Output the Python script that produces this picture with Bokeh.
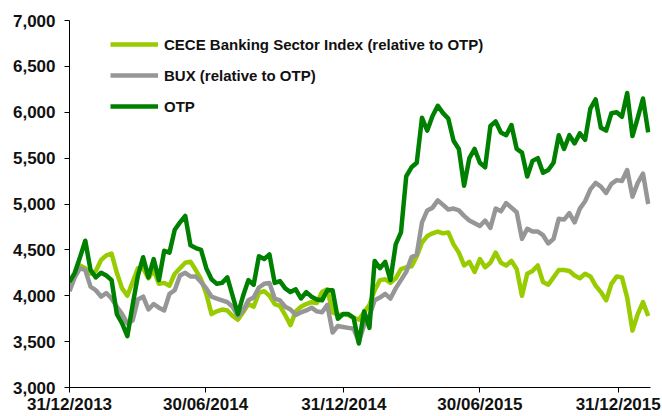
import pandas as pd
from bokeh.plotting import figure
from bokeh.models import (ColumnDataSource, Legend, LegendItem, FixedTicker,
                          NumeralTickFormatter, Range1d)
from bokeh.embed import file_html
from bokeh.resources import INLINE

# weekly observations starting 31/12/2013
start_date = "2013-12-31"
otp = [4150, 4250, 4420, 4600, 4280, 4200, 4250, 4220, 4170, 3800,
       3700, 3560, 3900, 4220, 4420, 4200, 4400, 4170, 4490, 4470,
       4720, 4800, 4870, 4550, 4520, 4500, 4300, 4180, 4130, 4140,
       4200, 4000, 3800, 4000, 4170, 4120, 4430, 4400, 4450, 4140,
       4160, 4080, 4040, 4070, 3970, 4040, 3990, 3960, 3950, 4060,
       4060, 3750, 3800, 3800, 3760, 3480, 3830, 3650, 4380, 4300,
       4370, 4170, 4560, 4690, 5300, 5400, 5450, 5940, 5800, 5960,
       6070, 5990, 5930, 5690, 5600, 5200, 5500, 5600, 5450, 5400,
       5850, 5900, 5780, 5750, 5860, 5600, 5560, 5300, 5470, 5500,
       5340, 5370, 5450, 5750, 5600, 5750, 5660, 5770, 5700, 6040,
       6140, 5830, 5800, 5990, 6000, 5950, 6210, 5740, 5940, 6150,
       5780]
bux = [4050, 4200, 4300, 4280, 4100, 4060, 3990, 4030, 3970, 3880,
       3800, 3700, 3730, 3960, 3990, 3850, 3910, 3870, 3840, 4020,
       4060, 4220, 4250, 4210, 4210, 4150, 4080, 3990, 3970, 3950,
       3930, 3880, 3780, 3840, 3950, 3980, 4090, 4130, 4140, 3970,
       3950, 3880, 3850, 3790, 3820, 3840, 3870, 3830, 3820, 3900,
       3600, 3670, 3660, 3650, 3640, 3500, 3680, 3780, 3950, 3980,
       4020, 3970, 4080, 4170, 4260, 4420, 4450, 4800, 4930, 4960,
       5040, 4990, 4940, 4950, 4930, 4870, 4820, 4790, 4760, 4820,
       4740, 4950, 4920, 5010, 4960, 4910, 4620, 4730, 4700, 4700,
       4660, 4570, 4620, 4840, 4830, 4900, 4800, 4950, 5030, 5160,
       5230, 5190, 5120, 5220, 5260, 5250, 5370, 5080, 5230, 5330,
       5000]
cece = [4080, 4220, 4330, 4300, 4240, 4270, 4390, 4440, 4460, 4250,
        4080, 4000, 4150, 4300, 4300, 4190, 4280, 4130, 4140, 4110,
        4240, 4300, 4360, 4370, 4280, 4180, 4020, 3800, 3830, 3850,
        3840, 3780, 3740, 3820, 3910, 3880, 4030, 4050, 4000, 3910,
        3890, 3790, 3680, 3830, 3880, 3910, 3930, 3920, 4040, 4070,
        3820, 3790, 3800, 3790, 3760, 3740, 3820, 3900, 4060, 4170,
        4180, 4140, 4190, 4290, 4310, 4320, 4430, 4580, 4650, 4680,
        4700, 4680, 4690, 4560, 4470, 4330, 4370, 4260, 4400, 4310,
        4360, 4470, 4360, 4330, 4380, 4290, 4000, 4240, 4270, 4330,
        4150, 4120, 4200, 4280, 4280, 4270, 4220, 4190, 4240, 4210,
        4110, 4040, 3950, 4130, 4210, 4200, 3980, 3620, 3800, 3930,
        3780]

series_names = ["CECE Banking Sector Index (relative to OTP)",
                "BUX (relative to OTP)", "OTP"]
series_colors = ["#99CC00", "#969696", "#008000"]

tick_dates = ["2013-12-31", "2014-06-30", "2014-12-31", "2015-06-30", "2015-12-31"]
tick_labels = ["31/12/2013", "30/06/2014", "31/12/2014", "30/06/2015", "31/12/2015"]
y_ticks = [3000, 3500, 4000, 4500, 5000, 5500, 6000, 6500, 7000]

dates = pd.date_range(start_date, periods=len(otp), freq="7D")
src = ColumnDataSource(dict(date=dates, cece=cece, bux=bux, otp=otp))

FONT = "Liberation Sans"

p = figure(width=662, height=416, x_axis_type="datetime",
           output_backend="svg", toolbar_location=None,
           min_border_left=69, min_border_right=12, min_border_top=20,
           min_border_bottom=0)
p.x_range = Range1d(pd.Timestamp("2013-12-31"), pd.Timestamp("2016-02-12"))
p.y_range = Range1d(3000, 7000)
p.outline_line_color = None
p.xgrid.visible = False
p.ygrid.visible = False
p.background_fill_color = "white"
p.border_fill_color = "white"

renderers = []
for key, color in zip(["cece", "bux", "otp"], series_colors):
    r = p.line("date", key, source=src, line_color=color, line_width=4.5,
               line_join="round")
    renderers.append(r)

# tuple location = bottom-left corner of the legend box, from the frame's bottom-left
legend = Legend(items=[LegendItem(label=n, renderers=[r])
                       for n, r in zip(series_names, renderers)],
                location=(41, 271), padding=0, margin=0, spacing=11,
                glyph_width=48, glyph_height=20, label_height=20,
                label_standoff=6, border_line_alpha=0,
                background_fill_alpha=0,
                label_text_font=FONT, label_text_font_style="bold",
                label_text_font_size="15px", label_text_color="#111111")
p.add_layout(legend, "center")

tick_ms = [pd.Timestamp(d).value // 10**6 for d in tick_dates]
p.xaxis.ticker = FixedTicker(ticks=tick_ms)
p.xaxis.major_label_overrides = {t: lab for t, lab in zip(tick_ms, tick_labels)}
p.yaxis.ticker = FixedTicker(ticks=y_ticks)
p.yaxis.formatter = NumeralTickFormatter(format="0,0")

for ax in (p.xaxis[0], p.yaxis[0]):
    ax.axis_line_color = "black"
    ax.axis_line_width = 1
    ax.major_tick_line_color = "black"
    ax.major_tick_out = 5
    ax.major_tick_in = 0
    ax.minor_tick_line_color = None
    ax.major_label_text_font = FONT
    ax.major_label_text_font_style = "bold"
    ax.major_label_text_font_size = "17px"
    ax.major_label_text_color = "#111111"
p.yaxis.major_label_standoff = 9
p.xaxis.major_label_standoff = 2

open("out.html", "w").write(file_html(p, INLINE))
